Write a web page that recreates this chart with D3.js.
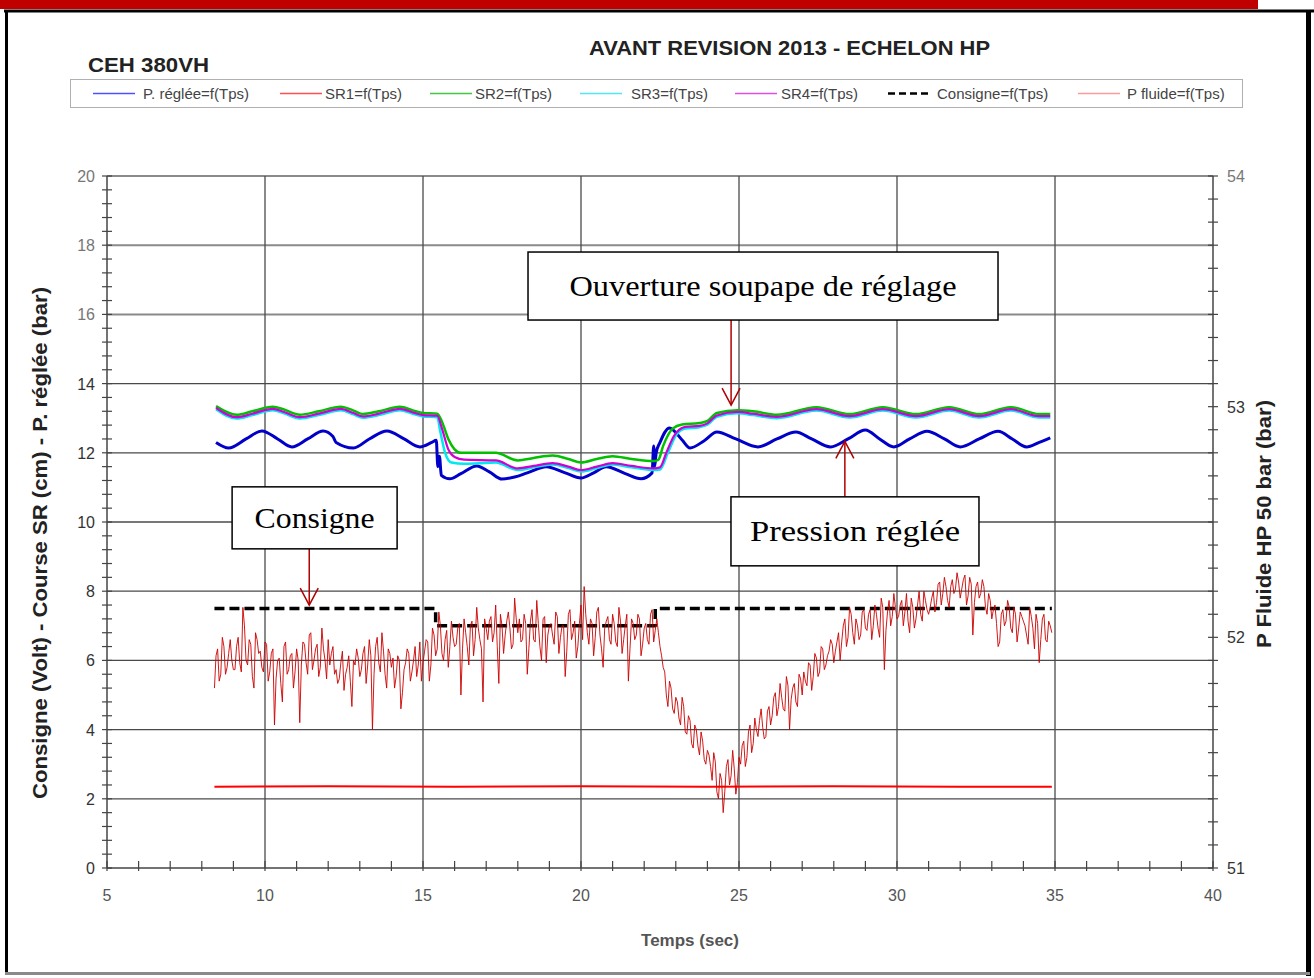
<!DOCTYPE html>
<html>
<head>
<meta charset="utf-8">
<script src="https://cdn.jsdelivr.net/npm/d3@7"></script>
<style>
  body { margin: 0; background: #fff; }
  svg { display: block; font-family: "Liberation Sans", Arial, sans-serif; }
</style>
</head>
<body>
<div id="chart"></div>
<script>
// ---- data ----
const chartTitle = "AVANT REVISION 2013 - ECHELON HP";
const unitTitle = "CEH 380VH";
const xTicks = [5, 10, 15, 20, 25, 30, 35, 40];
const yTicks = [0, 2, 4, 6, 8, 10, 12, 14, 16, 18, 20];
const yRightTicks = [51, 52, 53, 54];
const legendNames = ["P. réglée=f(Tps)", "SR1=f(Tps)", "SR2=f(Tps)", "SR3=f(Tps)", "SR4=f(Tps)", "Consigne=f(Tps)", "P fluide=f(Tps)"];

// P. réglée (bar), [time s, value]
const pRegleeData = [
  [8.45, 12.3], [8.85, 12.14], [9.4, 12.4], [9.9, 12.63], [10.4, 12.4], [10.85, 12.17],
  [11.35, 12.4], [11.84, 12.63], [12.15, 12.47], [12.25, 12.3], [12.8, 12.14], [13.3, 12.4],
  [13.86, 12.63], [14.4, 12.4], [14.9, 12.17], [15.28, 12.3], [15.42, 12.36], [15.47, 11.6],
  [15.52, 11.9], [15.58, 11.35], [15.85, 11.25], [16.2, 11.4], [16.7, 11.62], [17.1, 11.45],
  [17.5, 11.24], [17.9, 11.3], [18.3, 11.42], [18.9, 11.6], [19.5, 11.42], [20.0, 11.27],
  [20.4, 11.42], [20.8, 11.6], [21.4, 11.4], [21.9, 11.25], [22.25, 11.42], [22.3, 12.2],
  [22.33, 11.6], [22.38, 12.0], [22.5, 12.3], [22.8, 12.72], [23.2, 12.37], [23.45, 12.14],
  [23.9, 12.35], [24.3, 12.6], [24.9, 12.4], [25.6, 12.17], [26.2, 12.4], [26.8, 12.6],
  [27.3, 12.4], [27.9, 12.17], [28.45, 12.4], [29.0, 12.66], [29.45, 12.4], [29.9, 12.17],
  [30.4, 12.4], [30.95, 12.62], [31.5, 12.4], [32.0, 12.17], [32.6, 12.4], [33.2, 12.62],
  [33.65, 12.4], [34.1, 12.17], [34.5, 12.3], [34.85, 12.43]
];

// SR1 (cm)
const sr1Data = [[8.4, 2.35], [12.0, 2.36], [16.0, 2.35], [20.0, 2.36], [24.0, 2.35], [28.0, 2.36], [32.0, 2.35], [34.9, 2.35]];

// SR2 (cm)
const sr2Data = [
  [8.45, 13.35], [9.1, 13.1], [9.6, 13.2], [10.25, 13.33], [10.6, 13.25], [11.1, 13.1],
  [11.7, 13.2], [12.4, 13.33], [12.8, 13.22], [13.1, 13.12], [13.6, 13.2], [14.27, 13.33],
  [14.7, 13.22], [15.0, 13.15], [15.45, 13.13], [15.6, 12.9], [15.8, 12.4], [16.0, 12.1],
  [16.2, 12.0], [17.3, 12.0], [18.0, 11.78], [18.5, 11.85], [19.1, 11.92], [19.6, 11.82],
  [20.0, 11.72], [20.5, 11.82], [21.0, 11.9], [21.6, 11.82], [22.3, 11.76], [22.45, 11.8],
  [22.6, 12.2], [22.9, 12.7], [23.2, 12.82], [23.75, 12.86], [24.0, 12.92], [24.3, 13.15],
  [24.95, 13.23], [25.45, 13.2], [26.2, 13.1], [27.45, 13.32], [28.5, 13.12], [29.55, 13.32],
  [30.6, 13.12], [31.65, 13.32], [32.6, 13.12], [33.6, 13.32], [34.5, 13.12], [34.85, 13.12]
];

// SR3 (cm)
const sr3Data = [
  [8.45, 13.26], [9.1, 12.99], [9.6, 13.09], [10.25, 13.23], [10.6, 13.14], [11.1, 12.99],
  [11.7, 13.09], [12.4, 13.23], [12.8, 13.11], [13.1, 13.01], [13.6, 13.09], [14.27, 13.23],
  [14.7, 13.12], [15.0, 13.05], [15.45, 13.03], [15.55, 12.6], [15.7, 12.0], [15.9, 11.72],
  [16.3, 11.68], [16.8, 11.7], [17.3, 11.72], [18.0, 11.5], [18.5, 11.58], [19.1, 11.66],
  [19.6, 11.56], [20.0, 11.46], [20.5, 11.56], [21.0, 11.66], [21.6, 11.58], [22.3, 11.5],
  [22.5, 11.52], [22.75, 12.0], [23.0, 12.5], [23.3, 12.7], [23.75, 12.74], [24.0, 12.81],
  [24.3, 13.04], [24.95, 13.14], [25.45, 13.09], [26.2, 13.0], [27.45, 13.22], [28.5, 13.02],
  [29.55, 13.22], [30.6, 13.02], [31.65, 13.22], [32.6, 13.02], [33.6, 13.22], [34.5, 13.02],
  [34.85, 13.02]
];

// SR4 (cm)
const sr4Data = [
  [8.45, 13.3], [9.1, 13.03], [9.6, 13.13], [10.25, 13.27], [10.6, 13.18], [11.1, 13.03],
  [11.7, 13.13], [12.4, 13.27], [12.8, 13.15], [13.1, 13.05], [13.6, 13.13], [14.27, 13.27],
  [14.7, 13.16], [15.0, 13.09], [15.45, 13.07], [15.6, 12.7], [15.8, 12.1], [16.0, 11.88],
  [16.3, 11.8], [17.3, 11.78], [18.0, 11.55], [18.5, 11.62], [19.1, 11.7], [19.6, 11.6],
  [20.0, 11.5], [20.5, 11.6], [21.0, 11.7], [21.6, 11.62], [22.3, 11.55], [22.5, 11.58],
  [22.7, 12.0], [22.95, 12.5], [23.3, 12.75], [23.75, 12.78], [24.0, 12.85], [24.3, 13.08],
  [24.95, 13.18], [25.45, 13.13], [26.2, 13.04], [27.45, 13.26], [28.5, 13.06], [29.55, 13.26],
  [30.6, 13.06], [31.65, 13.26], [32.6, 13.06], [33.6, 13.26], [34.5, 13.06], [34.85, 13.06]
];

// Consigne (Volt)
const consigneData = [[8.4, 7.5], [15.4, 7.5], [15.4, 7.0], [22.35, 7.0], [22.35, 7.5], [34.9, 7.5]];

// P fluide (bar, right axis): samples at 8.4, 8.5, ... 34.9 s
const fluideStart = 8.4;
const fluideStep = 0.1;
const fluideValues = [
  51.78, 51.95, 51.84, 51.96, 51.87, 51.99, 51.86,
  51.96, 51.89, 52.13, 51.90, 51.99, 51.83, 52.02, 51.93, 51.87, 51.98,
  51.81, 51.93, 51.62, 51.90, 51.80, 51.96, 51.84, 51.92, 51.78, 51.95,
  51.63, 51.98, 51.89, 52.01, 51.86, 51.95, 51.83, 52.04, 51.90, 51.99,
  51.93, 51.84, 51.80, 51.89, 51.77, 51.87, 51.81, 51.90, 51.95, 51.83,
  51.93, 51.80, 51.99, 51.60, 51.96, 51.89, 52.02, 51.84, 51.95, 51.87,
  51.78, 51.92, 51.69, 51.86, 51.95, 51.81, 51.90, 51.83, 51.98, 51.89,
  51.99, 51.81, 52.04, 51.92, 52.11, 51.93, 51.99, 51.87, 52.07, 51.96,
  52.04, 51.75, 52.08, 51.96, 52.05, 51.92, 52.13, 51.99, 51.72, 52.04,
  52.07, 51.98, 52.14, 51.80, 52.05, 52.01, 52.11, 51.95, 52.17, 52.02,
  51.98, 52.10, 51.84, 52.07, 51.99, 52.16, 51.96, 52.08, 51.89, 52.05,
  52.01, 52.11, 51.93, 52.05, 51.83, 52.10, 51.99, 52.07, 51.96, 52.14,
  52.22, 52.02, 52.08, 51.92, 52.11, 52.01, 51.87, 52.07, 51.99, 52.10,
  51.98, 52.13, 51.93, 52.05, 51.81, 52.08, 51.99, 52.10, 51.92, 52.04,
  51.99, 52.10, 51.98, 52.08,
  51.96, 51.87, 51.75, 51.81, 51.69, 51.74,
  51.65, 51.74, 51.59, 51.66, 51.54, 51.62, 51.53, 51.59, 51.47, 51.51,
  51.44, 51.50, 51.33, 51.41, 51.24, 51.44, 51.36, 51.51, 51.32, 51.48,
  51.53, 51.44, 51.59, 51.50, 51.65, 51.57, 51.69, 51.56, 51.68, 51.62,
  51.74, 51.66, 51.80, 51.69, 51.83, 51.60, 51.78, 51.72, 51.84, 51.75,
  51.81, 51.89, 51.77, 51.93, 51.83, 51.96, 51.86, 51.92, 51.99, 51.89,
  51.98, 51.90, 52.05, 51.96, 52.13, 52.02, 52.08, 51.99, 52.11, 52.04,
  52.10, 51.99, 52.14, 52.04, 52.17, 51.86, 52.11, 52.05, 52.19, 52.08,
  52.14, 52.05, 52.19, 52.02, 52.13, 52.08, 52.20, 52.07, 52.16, 52.10,
  52.17, 52.11, 52.23, 52.14, 52.26, 52.16, 52.22, 52.19, 52.28, 52.17,
  52.25, 52.14, 52.26, 52.01, 52.22, 52.17, 52.25, 52.13, 52.19, 52.08,
  52.14, 51.96, 52.10, 52.05, 52.16, 52.04, 52.13, 51.98, 52.11, 52.07,
  52.01, 52.13, 52.04, 52.10, 51.89, 52.08, 51.99, 52.07, 52.02
];
// P fluide (bar): samples in between, at 8.45, 8.55, ... 34.85 s
const fluideMidValues = [
  51.92, 51.81, 52.00, 51.84, 51.93, 51.90,
  51.86, 52.00, 51.85, 52.05, 51.88, 51.97, 51.78, 51.99, 51.94, 51.85,
  51.97, 51.85, 51.95, 51.82, 51.91, 51.72, 51.98, 51.86, 51.93, 51.85,
  51.90, 51.88, 51.97, 51.84, 52.02, 51.90, 51.97, 51.87, 51.95, 51.82,
  51.88, 51.96, 51.86, 51.82, 51.94, 51.84, 51.92, 51.70, 51.88, 51.91,
  51.86, 51.96, 51.88, 51.92, 51.84, 52.00, 51.85, 51.94, 51.78, 51.93,
  51.91, 51.83, 51.90, 51.76, 51.89, 51.93, 51.85, 51.96, 51.88, 51.81,
  51.94, 51.98, 51.88, 52.01, 51.95, 52.05, 51.90, 52.03, 51.96, 52.00,
  51.97, 52.06, 51.95, 52.02, 51.88, 52.07, 51.99, 52.04, 51.95, 52.08,
  51.99, 52.09, 52.02, 51.96, 52.10, 51.93, 52.07, 52.04, 51.97, 52.08,
  52.08, 51.99, 52.06, 51.95, 52.12, 51.98, 52.06, 51.90, 52.09, 52.01,
  52.06, 51.97, 52.09, 52.00, 52.05, 51.94, 52.12, 52.02, 51.91, 52.06,
  51.99, 52.10, 51.97, 52.06, 52.00, 52.13, 51.95, 52.04, 52.09, 51.97,
  52.06, 51.96, 52.07, 51.99, 52.10, 51.95, 52.06, 52.01, 52.08, 51.97,
  52.06, 51.97, 52.12, 52.03,
  52.02, 51.92, 51.85, 51.70, 51.78, 51.67,
  51.72, 51.62, 51.70, 51.58, 51.64, 51.52, 51.60, 51.49, 51.55, 51.45,
  51.49, 51.38, 51.46, 51.30, 51.38, 51.33, 51.47, 51.40, 51.43, 51.37,
  51.45, 51.55, 51.48, 51.62, 51.54, 51.60, 51.64, 51.61, 51.57, 51.70,
  51.66, 51.76, 51.70, 51.74, 51.68, 51.79, 51.73, 51.80, 51.70, 51.82,
  51.85, 51.79, 51.88, 51.83, 51.91, 51.85, 51.95, 51.88, 51.94, 51.97,
  51.94, 52.02, 51.98, 52.08, 52.00, 52.10, 51.97, 52.05, 52.01, 52.12,
  52.03, 52.12, 52.05, 52.10, 52.00, 52.13, 52.03, 52.16, 52.09, 52.13,
  52.09, 52.16, 52.11, 52.07, 52.17, 52.04, 52.14, 52.10, 52.20, 52.12,
  52.13, 52.20, 52.15, 52.24, 52.19, 52.22, 52.13, 52.25, 52.21, 52.24,
  52.21, 52.27, 52.18, 52.23, 52.15, 52.24, 52.19, 52.22, 52.10, 52.16,
  52.12, 52.06, 51.98, 52.12, 52.07, 52.13, 52.02, 52.10, 52.04, 52.09,
  52.05, 51.97, 52.09, 51.95, 52.06, 51.99, 52.10, 51.98, 52.05
];

// Annotations: arrow tip and box centre in data units
const annotations = [
  { text: "Ouverture soupape de réglage", cx: 25.76, cy: 16.82, w: 470, h: 68, tw: 387, tipX: 24.75, tipY: 13.38, dir: "down" },
  { text: "Consigne", cx: 11.57, cy: 10.12, w: 165, h: 62, tw: 120, tipX: 11.4, tipY: 7.6, dir: "down" },
  { text: "Pression réglée", cx: 28.67, cy: 9.73, w: 248, h: 69, tw: 210, tipX: 28.35, tipY: 12.33, dir: "up" }
];

// ---- layout ----
const width = 1314;
const height = 978;

const svg = d3.select("#chart")
    .append("svg")
    .attr("width", width)
    .attr("height", height);

const x = d3.scaleLinear().domain([5, 40]).range([107, 1213]);
const y = d3.scaleLinear().domain([0, 20]).range([868, 176]);
const yR = d3.scaleLinear().domain([51, 54]).range([868, 176]);

// outer frame
svg.append("rect").attr("x", 0).attr("y", 0).attr("width", 1258).attr("height", 9).attr("fill", "#c00000");
svg.append("line").attr("x1", 4).attr("x2", 1314).attr("y1", 11).attr("y2", 11).attr("stroke", "#000").attr("stroke-width", 3);
svg.append("line").attr("x1", 6.5).attr("x2", 6.5).attr("y1", 10).attr("y2", 974).attr("stroke", "#000").attr("stroke-width", 3);
svg.append("line").attr("x1", 1308.5).attr("x2", 1308.5).attr("y1", 10).attr("y2", 976).attr("stroke", "#000").attr("stroke-width", 5);
svg.append("line").attr("x1", 5).attr("x2", 1310).attr("y1", 973.5).attr("y2", 973.5).attr("stroke", "#8a8a8a").attr("stroke-width", 3);

// titles
svg.append("text")
    .attr("x", 589).attr("y", 55)
    .attr("font-size", 21).attr("font-weight", "bold").attr("fill", "#222")
    .attr("textLength", 401).attr("lengthAdjust", "spacingAndGlyphs")
    .text(chartTitle);

svg.append("text")
    .attr("x", 88).attr("y", 72)
    .attr("font-size", 20).attr("font-weight", "bold").attr("fill", "#222")
    .attr("textLength", 121).attr("lengthAdjust", "spacingAndGlyphs")
    .text(unitTitle);

// legend
const legendStyle = [
  { color: "#5050ff", dash: null, lx: 93, tx: 143 },
  { color: "#ff5050", dash: null, lx: 280, tx: 325 },
  { color: "#40c840", dash: null, lx: 430, tx: 475 },
  { color: "#50e8f0", dash: null, lx: 580, tx: 631 },
  { color: "#e050e0", dash: null, lx: 735, tx: 781 },
  { color: "#000", dash: "7,4", lx: 888, tx: 937 },
  { color: "#ff9a9a", dash: null, lx: 1078, tx: 1127 }
];

const legend = svg.append("g");
legend.append("rect")
    .attr("x", 70.5).attr("y", 79.5).attr("width", 1172).attr("height", 28)
    .attr("fill", "#fff").attr("stroke", "#b0b0b0");

legendNames.forEach((name, i) => {
  const s = legendStyle[i];
  legend.append("line")
      .attr("x1", s.lx).attr("x2", s.lx + 42)
      .attr("y1", 93.5).attr("y2", 93.5)
      .attr("stroke", s.color)
      .attr("stroke-width", s.dash ? 2.5 : 1.3)
      .attr("stroke-dasharray", s.dash);
  legend.append("text")
      .attr("x", s.tx).attr("y", 99)
      .attr("font-size", 15).attr("fill", "#444")
      .text(name);
});

// grid
const grid = svg.append("g").attr("stroke", "#4a4a4a").attr("stroke-width", 1.3);
grid.selectAll("line.h")
    .data(yTicks.filter(d => d > 0))
    .join("line")
    .attr("class", "h")
    .attr("x1", x(5)).attr("x2", x(40))
    .attr("y1", d => y(d)).attr("y2", d => y(d))
    .attr("stroke", d => d >= 16 ? "#8a8a8a" : "#4a4a4a")
    .attr("stroke-width", d => d >= 16 ? 2 : 1.3);
grid.selectAll("line.v")
    .data(xTicks.filter(d => d > 5 && d < 40))
    .join("line")
    .attr("class", "v")
    .attr("x1", d => x(d)).attr("x2", d => x(d))
    .attr("y1", y(0)).attr("y2", y(20));

// axes lines
const axes = svg.append("g").attr("stroke", "#444").attr("stroke-width", 1.5);
axes.append("line").attr("x1", x(5)).attr("x2", x(5)).attr("y1", y(0)).attr("y2", y(20));
axes.append("line").attr("x1", x(40)).attr("x2", x(40)).attr("y1", y(0)).attr("y2", y(20));
axes.append("line").attr("x1", x(5)).attr("x2", x(40)).attr("y1", y(0)).attr("y2", y(0));

// left minor ticks every 0.4
axes.selectAll("line.lm")
    .data(d3.range(0, 20.001, 0.4))
    .join("line")
    .attr("class", "lm")
    .attr("x1", x(5) - 5).attr("x2", x(5) + 5)
    .attr("y1", d => y(d)).attr("y2", d => y(d))
    .attr("stroke-width", 1.2);

// right minor ticks every 0.1 bar
axes.selectAll("line.rm")
    .data(d3.range(51, 54.001, 0.1))
    .join("line")
    .attr("class", "rm")
    .attr("x1", x(40) - 5).attr("x2", x(40) + 5)
    .attr("y1", d => yR(d)).attr("y2", d => yR(d))
    .attr("stroke-width", 1.2);

// bottom minor ticks every 1 s
axes.selectAll("line.bm")
    .data(d3.range(5, 40.001, 1))
    .join("line")
    .attr("class", "bm")
    .attr("x1", d => x(d)).attr("x2", d => x(d))
    .attr("y1", y(0) - 7).attr("y2", y(0) + 3)
    .attr("stroke-width", 1.2);

// tick labels
svg.append("g")
    .attr("transform", `translate(${x(5) - 12},0)`)
    .selectAll("text")
    .data(yTicks)
    .join("text")
    .attr("y", d => y(d) + 6)
    .attr("text-anchor", "end")
    .attr("font-size", 16)
    .attr("fill", d => d >= 16 ? "#777" : "#333")
    .text(d => d);

svg.append("g")
    .attr("transform", `translate(${x(40) + 14},0)`)
    .selectAll("text")
    .data(yRightTicks)
    .join("text")
    .attr("y", d => yR(d) + 6)
    .attr("font-size", 16)
    .attr("fill", d => d === 54 ? "#777" : "#333")
    .text(d => d);

svg.append("g")
    .selectAll("text")
    .data(xTicks)
    .join("text")
    .attr("x", d => x(d))
    .attr("y", y(0) + 33)
    .attr("text-anchor", "middle")
    .attr("font-size", 16)
    .attr("fill", "#555")
    .text(d => d);

// axis titles
svg.append("text")
    .attr("x", 690).attr("y", 946)
    .attr("text-anchor", "middle")
    .attr("font-size", 17).attr("font-weight", "bold").attr("fill", "#555")
    .text("Temps (sec)");

svg.append("text")
    .attr("transform", "translate(47,799) rotate(-90)")
    .attr("font-size", 20).attr("font-weight", "bold").attr("fill", "#222")
    .attr("textLength", 512).attr("lengthAdjust", "spacingAndGlyphs")
    .text("Consigne (Volt) - Course SR (cm) - P. réglée (bar)");

svg.append("text")
    .attr("transform", "translate(1271,648) rotate(-90)")
    .attr("font-size", 20).attr("font-weight", "bold").attr("fill", "#222")
    .attr("textLength", 248).attr("lengthAdjust", "spacingAndGlyphs")
    .text("P Fluide HP 50 bar (bar)");

// series
const line = d3.line().x(d => x(d[0])).y(d => y(d[1]));
const smooth = d3.line().x(d => x(d[0])).y(d => y(d[1])).curve(d3.curveMonotoneX);
const lineR = d3.line().x(d => x(d[0])).y(d => yR(d[1]));

const plot = svg.append("g").attr("fill", "none").attr("stroke-linejoin", "round");

plot.append("path").datum(pRegleeData).attr("d", smooth)
    .attr("stroke", "#0000c8").attr("stroke-width", 3);
plot.append("path").datum(sr1Data).attr("d", line)
    .attr("stroke", "#ff0000").attr("stroke-width", 2);
plot.append("path").datum(sr2Data).attr("d", smooth)
    .attr("stroke", "#00c000").attr("stroke-width", 2.5);
plot.append("path").datum(sr3Data).attr("d", smooth)
    .attr("stroke", "#00e8f0").attr("stroke-width", 2.5);
plot.append("path").datum(sr4Data).attr("d", smooth)
    .attr("stroke", "#d000d0").attr("stroke-width", 2.2);
plot.append("path").datum(consigneData).attr("d", line)
    .attr("stroke", "#000").attr("stroke-width", 3.5)
    .attr("stroke-dasharray", "10,5");

// merge the two sample sets into one time-ordered trace
const fluideData = [];
fluideValues.forEach((v, i) => {
  fluideData.push([fluideStart + i * fluideStep, v]);
  if (i < fluideMidValues.length) {
    fluideData.push([fluideStart + fluideStep / 2 + i * fluideStep, fluideMidValues[i]]);
  }
});
plot.append("path").datum(fluideData).attr("d", lineR)
    .attr("stroke", "#cc0000").attr("stroke-width", 1).attr("stroke-opacity", 0.9);

// annotations
const ann = svg.append("g");
annotations.forEach(a => {
  const bx = x(a.cx) - a.w / 2;
  const by = y(a.cy) - a.h / 2;
  const tx = x(a.tipX);
  const ty = y(a.tipY);
  const startY = a.dir === "down" ? by + a.h : by;
  const sign = a.dir === "down" ? -1 : 1;

  ann.append("line")
      .attr("x1", tx).attr("x2", tx).attr("y1", startY).attr("y2", ty)
      .attr("stroke", "#b00000").attr("stroke-width", 1.5);
  ann.append("path")
      .attr("d", `M${tx - 9},${ty + sign * 17}L${tx},${ty}L${tx + 9},${ty + sign * 17}`)
      .attr("fill", "none").attr("stroke", "#b00000").attr("stroke-width", 1.5);

  ann.append("rect")
      .attr("x", bx).attr("y", by).attr("width", a.w).attr("height", a.h)
      .attr("fill", "#fff").attr("stroke", "#000").attr("stroke-width", 1.5);
  ann.append("text")
      .attr("x", bx + a.w / 2 - a.tw / 2).attr("y", by + a.h / 2 + 10)
      .attr("font-family", "'Liberation Serif', 'Times New Roman', serif")
      .attr("font-size", 30).attr("fill", "#000")
      .attr("textLength", a.tw).attr("lengthAdjust", "spacingAndGlyphs")
      .text(a.text);
});
</script>
</body>
</html>
